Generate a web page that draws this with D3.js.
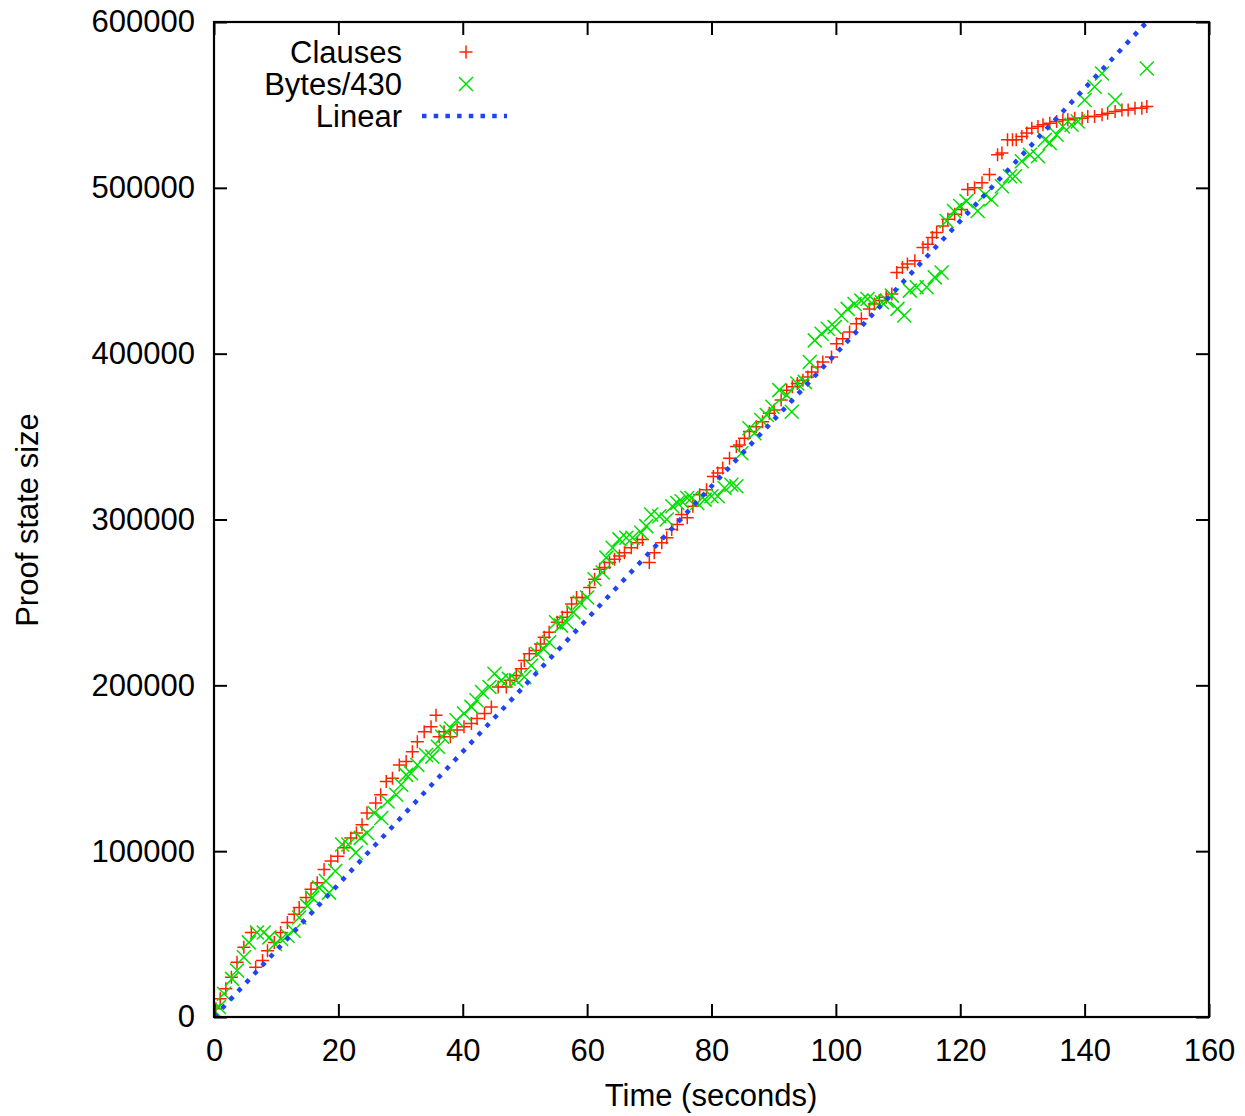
<!DOCTYPE html>
<html>
<head>
<meta charset="utf-8">
<script src="https://cdn.jsdelivr.net/npm/d3@7"></script>
<style>
  body { margin: 0; background: #fff; }
  text { font-family: "Liberation Sans", Arial, Helvetica, sans-serif; fill: #000; }
</style>
</head>
<body>
<script>
// Clauses: time (s) and count
const clauseTimes = [0.3,1.0,1.9,2.8,3.7,4.8,6.0,6.7,7.8,8.6,9.7,10.7,11.8,12.9,13.7,14.8,15.6,16.6,17.7,18.8,
  19.9,20.9,22.0,22.9,23.8,24.6,26.0,26.8,27.7,28.7,29.8,30.9,31.9,32.7,33.8,34.9,35.7,36.2,37.0,38.0,
  39.1,40.2,41.4,42.3,43.5,44.6,45.7,47.0,47.6,48.6,49.4,49.9,50.7,51.8,52.5,53.1,53.9,55.2,56.0,56.8,
  57.5,58.3,59.2,60.4,61.2,62.0,62.8,63.6,64.4,65.2,66.0,67.1,68.1,68.9,70.0,70.8,72.0,72.8,73.6,74.5,
  75.2,76.1,77.0,78.1,79.2,80.3,81.0,81.8,82.9,84.0,84.5,85.3,86.1,87.2,88.2,89.3,90.1,91.2,92.1,93.0,
  93.8,94.7,95.5,96.1,97.1,97.9,99.3,100.1,101.1,102.2,103.3,104.1,105.4,106.2,107.0,108.1,109.0,109.8,110.7,111.5,
  112.7,114.0,114.8,115.5,116.2,117.2,118.0,119.1,120.2,121.2,122.3,123.5,124.7,126.0,126.7,127.6,128.4,129.0,129.9,130.7,
  131.5,132.5,133.3,134.4,135.5,136.5,137.3,138.4,139.6,140.5,141.6,142.8,143.7,144.9,146.0,147.0,148.1,149.2,150.0];
const clauseValues = [5,11,17,24,33,42,51,30,34,40,45,51,57,62,66,72,77,81,89,94,
  97,102,108,111,116,123,129,134,142,144,152,154,160,166,172,175,182,169,172,169,
  173,175,177,180,183,187,199,199,203,206,210,215,219,221,225,229,232,238,241,244,
  249,253,253,259,264,270,271,274,276,278,280,283,286,288,274,280,286,289,294,297,
  303,301,308,315,318,326,328,331,337,344,345,349,353,356,359,364,366,372,378,380,
  382,384,386,389,392,395,398,406,409,413,418,421,427,430,432,434,436,449,452,454,
  456,464,466,470,473,477,481,484,487,499,500,503,508,520,521,529,529,529,531,533,
  536,537,538,539,540,541,541,542,542,543,543,544,545,546,547,547,548,548,549].map(v => v * 1000);

// Bytes/430: time (s) and scaled size
const byteTimes = [0.0,0.8,1.6,2.9,3.7,4.8,5.6,6.9,8.0,8.9,9.8,10.8,11.8,12.8,13.7,15.0,15.8,16.9,18.0,18.5,
  19.5,20.6,21.6,22.8,23.6,24.6,25.8,26.9,27.9,29.3,30.1,30.9,31.7,32.7,34.1,35.1,36.0,36.7,37.4,38.1,
  39.0,40.2,41.4,42.2,43.1,44.3,45.1,46.2,47.4,48.6,49.9,51.0,52.0,53.0,53.9,55.0,55.8,56.7,57.8,58.8,
  60.0,61.2,62.5,63.1,64.1,65.2,66.3,67.3,68.7,69.5,70.3,71.6,72.8,73.7,74.5,75.2,76.1,76.8,77.7,78.9,
  80.0,81.0,82.1,83.2,84.0,84.8,86.1,86.9,88.0,88.9,89.8,90.9,92.1,92.9,93.8,95.0,95.8,96.6,97.7,98.7,
  99.8,100.9,101.9,103.0,104.1,105.1,106.2,107.4,108.2,109.0,109.9,111.0,111.9,113.0,114.6,115.9,117.0,117.8,119.0,120.0,
  121.0,122.8,124.0,125.0,126.7,128.0,128.8,129.9,131.2,132.5,133.6,134.4,135.5,136.5,137.9,138.9,140.0,141.6,142.8,144.9,150.0];
const byteValues = [4,6,14,23,28,36,45,51,51,48,44,47,49,52,60,67,72,78,82,75,
  88,104,104,99,108,111,123,120,130,134,140,146,147,152,158,157,163,169,172,174,
  179,183,187,191,196,199,207,203,204,203,205,212,219,222,226,238,236,238,244,250,
  253,264,268,277,283,288,289,289,292,296,303,302,300,308,310,311,313,313,310,312,
  314,314,319,321,320,340,355,352,360,363,368,378,375,365,382,383,395,408,412,415,
  416,423,427,430,432,433,432,431,432,435,427,423,438,440,440,446,449,480,486,489,
  492,486,496,493,501,507,507,516,520,519,529,527,532,537,538,540,553,561,569,553,572].map(v => v * 1000);

// Linear reference
const linearTimes = [0, 150];
const linearValues = [0, 600000];

const xTicks = [0, 20, 40, 60, 80, 100, 120, 140, 160];
const yTicks = [0, 100000, 200000, 300000, 400000, 500000, 600000];

const W = 1245, H = 1116;
const margin = { top: 22, right: 36, bottom: 99, left: 214 };
const iw = W - margin.left - margin.right, ih = H - margin.top - margin.bottom;

const red = "#ff2200", green = "#00e000", blue = "#1f44f5";

const svg = d3.select("body").append("svg").attr("width", W).attr("height", H);
const g = svg.append("g").attr("transform", `translate(${margin.left},${margin.top})`);

const x = d3.scaleLinear().domain([0, 160]).range([0, iw]);
const y = d3.scaleLinear().domain([0, 600000]).range([ih, 0]);

g.append("clipPath").attr("id", "clip").append("rect").attr("width", iw).attr("height", ih);

const plusPath = "M-6.5,0H6.5M0,-6.5V6.5";
const crossPath = "M-7,-7L7,7M-7,7L7,-7";

const plot = g.append("g").attr("clip-path", "url(#clip)");

plot.selectAll(".clause").data(clauseTimes).enter().append("path")
  .attr("class", "clause")
  .attr("transform", (d, i) => `translate(${x(d)},${y(clauseValues[i])})`)
  .attr("d", plusPath).attr("stroke", red).attr("stroke-width", 1.5).attr("fill", "none");

plot.selectAll(".byte").data(byteTimes).enter().append("path")
  .attr("class", "byte")
  .attr("transform", (d, i) => `translate(${x(d)},${y(byteValues[i])})`)
  .attr("d", crossPath).attr("stroke", green).attr("stroke-width", 1.5).attr("fill", "none");

const line = d3.line().x(d => x(d[0])).y(d => y(d[1]));
plot.append("path")
  .datum(linearTimes.map((t, i) => [t, linearValues[i]]))
  .attr("d", line).attr("fill", "none").attr("stroke", blue)
  .attr("stroke-width", 4.5).attr("stroke-dasharray", "4.5,7.2");

// axes: inward ticks on all four sides (gnuplot style)
const fs = 31;
const xb = g.append("g").attr("transform", `translate(0,${ih})`)
  .call(d3.axisBottom(x).tickValues(xTicks).tickSize(-13).tickPadding(22).tickSizeOuter(0));
const xt = g.append("g").call(d3.axisTop(x).tickValues(xTicks).tickSize(-13).tickFormat("").tickSizeOuter(0));
const yl = g.append("g")
  .call(d3.axisLeft(y).tickValues(yTicks).tickSize(-13).tickPadding(19).tickFormat(d3.format("d")).tickSizeOuter(0));
const yr = g.append("g").attr("transform", `translate(${iw},0)`)
  .call(d3.axisRight(y).tickValues(yTicks).tickSize(-13).tickFormat("").tickSizeOuter(0));

[xb, xt, yl, yr].forEach(a => {
  a.select(".domain").remove();
  a.selectAll(".tick line").attr("stroke", "#000").attr("stroke-width", 2);
  a.selectAll(".tick text").style("font-size", fs + "px")
    .style("font-family", "'Liberation Sans', Arial, sans-serif").attr("fill", "#000");
});
xb.selectAll(".tick text").attr("dy", "0.71em");

g.append("rect").attr("width", iw).attr("height", ih)
  .attr("fill", "none").attr("stroke", "#000").attr("stroke-width", 2.2);

// axis titles
svg.append("text").attr("x", 711).attr("y", 1106).attr("text-anchor", "middle")
  .style("font-size", fs + "px").text("Time (seconds)");
svg.append("text").attr("transform", "translate(38,520) rotate(-90)").attr("text-anchor", "middle")
  .style("font-size", fs + "px").text("Proof state size");

// legend
const legend = svg.append("g");
const entries = [
  { label: "Clauses", yy: 52, kind: "plus" },
  { label: "Bytes/430", yy: 84, kind: "cross" },
  { label: "Linear", yy: 116, kind: "line" }
];
entries.forEach(e => {
  legend.append("text").attr("x", 402).attr("y", e.yy).attr("dy", "0.36em")
    .attr("text-anchor", "end").style("font-size", fs + "px").text(e.label);
  if (e.kind === "plus") {
    legend.append("path").attr("transform", `translate(466,${e.yy})`).attr("d", plusPath)
      .attr("stroke", red).attr("stroke-width", 1.5).attr("fill", "none");
  } else if (e.kind === "cross") {
    legend.append("path").attr("transform", `translate(466,${e.yy})`).attr("d", crossPath)
      .attr("stroke", green).attr("stroke-width", 1.5).attr("fill", "none");
  } else {
    legend.append("line").attr("x1", 422).attr("x2", 507).attr("y1", e.yy).attr("y2", e.yy)
      .attr("stroke", blue).attr("stroke-width", 4.5).attr("stroke-dasharray", "4.5,7.2");
  }
});
</script>
</body>
</html>
